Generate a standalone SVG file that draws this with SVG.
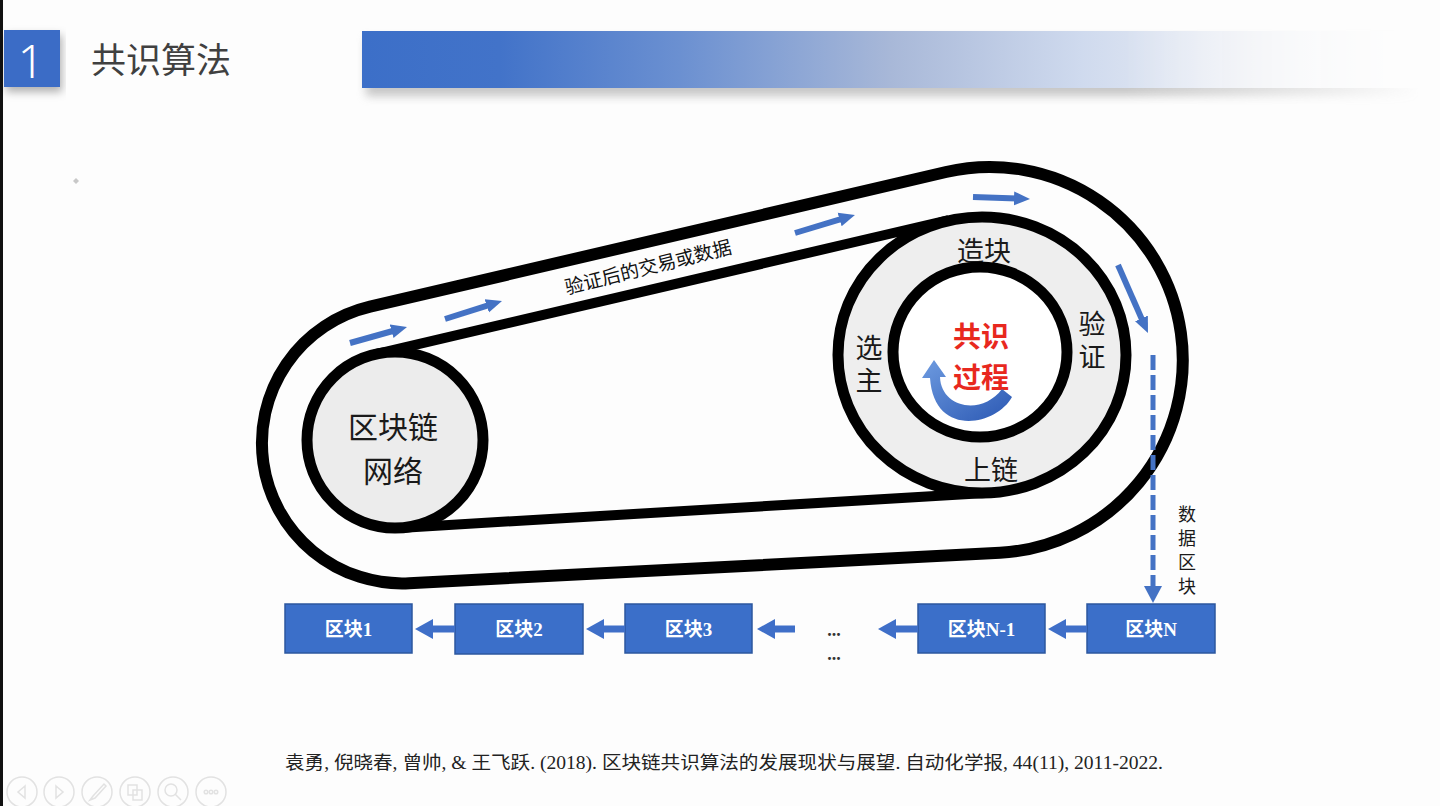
<svg xmlns="http://www.w3.org/2000/svg" width="1440" height="806" viewBox="0 0 1440 806">
<defs>
<style>
.cjk{font-family:"Noto Sans CJK SC","Noto Sans",sans-serif;}
.ring{font-family:"Noto Sans CJK SC",sans-serif;font-size:27px;fill:#1a1a1a;text-anchor:middle;}
.vert{font-family:"Noto Sans CJK SC",sans-serif;font-size:27px;fill:#1a1a1a;writing-mode:vertical-rl;letter-spacing:6px;}
.blk{fill:#3b6fc9;stroke:#2c579e;stroke-width:1.5;}
.blkt{font-family:"Liberation Serif","Noto Sans CJK SC",serif;font-weight:bold;font-size:19px;fill:#ffffff;text-anchor:middle;}
.belt{fill:none;stroke:#000;stroke-width:12;}
.bline{fill:none;stroke:#000;stroke-width:10;}
.barrow{stroke:#4472c4;stroke-width:6;fill:none;marker-end:url(#ah);}
.carrow{stroke:#3f6fc8;stroke-width:7;fill:none;marker-end:url(#ah2);}
.tb{fill:none;stroke:#e2e2e2;stroke-width:1.5;}
</style>
<marker id="ah" markerUnits="userSpaceOnUse" markerWidth="16" markerHeight="16" refX="3" refY="7" orient="auto" viewBox="0 0 16 14">
<path d="M0,0 L16,7 L0,14 Z" fill="#4472c4"/>
</marker>
<marker id="ah2" markerUnits="userSpaceOnUse" markerWidth="18" markerHeight="20" refX="3" refY="10" orient="auto" viewBox="0 0 18 20">
<path d="M0,0 L18,10 L0,20 Z" fill="#3f6fc8"/>
</marker>
<marker id="ah3" markerUnits="userSpaceOnUse" markerWidth="18" markerHeight="18" refX="3" refY="9" orient="auto" viewBox="0 0 17 18">
<path d="M0,0 L17,9 L0,18 Z" fill="#4472c4"/>
</marker>
<linearGradient id="hdr" x1="362" y1="0" x2="1420" y2="0" gradientUnits="userSpaceOnUse">
<stop offset="0" stop-color="#3c6fc8"/>
<stop offset="0.13" stop-color="#4273c9"/>
<stop offset="0.3" stop-color="#6b90d1"/>
<stop offset="0.5" stop-color="#a8b8d8"/>
<stop offset="0.68" stop-color="#cfdaee"/>
<stop offset="0.84" stop-color="#eef0f5"/>
<stop offset="1" stop-color="#ffffff"/>
</linearGradient>
<linearGradient id="fade" x1="362" y1="0" x2="1420" y2="0" gradientUnits="userSpaceOnUse">
<stop offset="0" stop-color="#fff"/>
<stop offset="0.72" stop-color="#fff"/>
<stop offset="1" stop-color="#000"/>
</linearGradient>
<mask id="hm" maskUnits="userSpaceOnUse" x="340" y="10" width="1100" height="110">
<rect x="340" y="10" width="1100" height="110" fill="url(#fade)"/>
</mask>
<linearGradient id="cg" x1="0" y1="0" x2="1" y2="1">
<stop offset="0" stop-color="#6e9be0"/>
<stop offset="1" stop-color="#2b58b3"/>
</linearGradient>
<filter id="sh" x="-10%" y="-30%" width="120%" height="180%">
<feDropShadow dx="2" dy="5" stdDeviation="4" flood-color="#000" flood-opacity="0.3"/>
</filter>
<filter id="bl" x="-5%" y="-50%" width="110%" height="200%">
<feGaussianBlur stdDeviation="5"/>
</filter>
</defs>
<rect x="0" y="0" width="1440" height="806" fill="#fdfdfd"/>
<rect x="0" y="0" width="3" height="806" fill="#111"/>

<g id="title">
<rect x="4" y="30" width="56" height="57" fill="#3b6cc6" filter="url(#sh)"/>
<text x="31" y="78" font-family="'Noto Sans','Open Sans',sans-serif" font-weight="300" font-size="46" fill="#ffffff" text-anchor="middle">1</text>
<text x="91" y="73" class="cjk" font-size="35" fill="#404040">共识算法</text>
<g mask="url(#hm)">
<rect x="366" y="38" width="1060" height="58" fill="#9a9a9a" opacity="0.55" filter="url(#bl)"/>
<rect x="362" y="31" width="1060" height="57" fill="url(#hdr)"/>
</g>
</g>

<polygon points="76,178 79,181 76,184 73,181" fill="#c8c8c8"/>

<g id="belt">
<path class="belt" d="M 370.05 306.7 L 946 172 A 193 193 0 1 1 1000 552.7 L 409.2 583.2 A 140.2 140.2 0 0 1 370.05 306.7 Z" fill="#ffffff"/>
<line class="bline" x1="374.7" y1="354.4" x2="948.7" y2="220"/>
<line class="bline" x1="399.8" y1="527.9" x2="989.8" y2="492.8"/>
</g>

<g id="network">
<circle cx="395" cy="440" r="88" fill="#ececec" stroke="#000" stroke-width="11"/>
<text x="393" y="438" class="cjk" font-size="30" fill="#1a1a1a" text-anchor="middle">区块链</text>
<text x="393" y="482" class="cjk" font-size="30" fill="#1a1a1a" text-anchor="middle">网络</text>
</g>

<g id="consensus-ring">
<ellipse cx="982" cy="355" rx="144" ry="138" fill="#eeeeee" stroke="#000" stroke-width="11"/>
<text x="984" y="261" class="ring">造块</text>
<text x="869" y="334" class="vert">选主</text>
<text x="1092" y="310" class="vert">验证</text>
<text x="991" y="480" class="ring">上链</text>
</g>

<g id="consensus-core">
<ellipse cx="980" cy="352" rx="87" ry="85" fill="#ffffff" stroke="#000" stroke-width="11"/>
<text x="981" y="347" class="cjk" font-size="28" font-weight="bold" fill="#e8281e" text-anchor="middle">共识</text>
<text x="981" y="388" class="cjk" font-size="28" font-weight="bold" fill="#e8281e" text-anchor="middle">过程</text>
<path d="M 1012 397 C 996 426, 934 438, 930 378 L 922 378 L 934 360 L 946 377 L 940 377 C 941 408, 982 416, 1002 389 Z" fill="url(#cg)"/>
</g>

<g id="belt-label">
<text x="648" y="274" class="cjk" font-size="19" fill="#111" text-anchor="middle" transform="rotate(-14 648 267)">验证后的交易或数据</text>
</g>

<g id="blocks">
<g id="block1"><rect class="blk" x="285" y="604" width="127" height="49"/><text class="blkt" x="348.5" y="636">区块1</text></g>
<g id="block2"><rect class="blk" x="455" y="604" width="128" height="50"/><text class="blkt" x="519" y="636">区块2</text></g>
<g id="block3"><rect class="blk" x="625" y="604" width="127" height="49"/><text class="blkt" x="688.5" y="636">区块3</text></g>
<g id="ellipsis"><text x="834" y="636" font-family="'Liberation Serif',serif" font-weight="bold" font-size="18" fill="#333" text-anchor="middle">...</text><text x="834" y="660" font-family="'Liberation Serif',serif" font-weight="bold" font-size="18" fill="#333" text-anchor="middle">...</text></g>
<g id="blockN-1"><rect class="blk" x="918" y="604" width="127" height="49"/><text class="blkt" x="981.5" y="636">区块N-1</text></g>
<g id="blockN"><rect class="blk" x="1087" y="604" width="128" height="49"/><text class="blkt" x="1151" y="636">区块N</text></g>
</g>

<g id="connectors">
<line class="barrow" x1="350" y1="343" x2="394.5" y2="330.5"/>
<line class="barrow" x1="445" y1="319" x2="489.6" y2="304.9"/>
<line class="barrow" x1="795" y1="233" x2="842.5" y2="218.7"/>
<line class="barrow" x1="973" y1="197" x2="1017" y2="198.5"/>
<line class="barrow" x1="1118" y1="265" x2="1142.7" y2="321.1"/>
<line x1="1153" y1="355" x2="1153" y2="589" stroke="#4472c4" stroke-width="5" stroke-dasharray="15 5" marker-end="url(#ah3)"/>
<line class="carrow" x1="455" y1="629" x2="430" y2="629"/>
<line class="carrow" x1="625" y1="629" x2="601" y2="629"/>
<line class="carrow" x1="795" y1="629" x2="772" y2="629"/>
<line class="carrow" x1="918" y1="629" x2="893" y2="629"/>
<line class="carrow" x1="1087" y1="629" x2="1063" y2="629"/>
</g>

<g id="data-block-label">
<text x="1187" y="505" font-family="'Noto Sans CJK SC',sans-serif" font-size="18" fill="#1a1a1a" writing-mode="vertical-rl" letter-spacing="6">数据区块</text>
</g>

<g id="citation">
<text x="285" y="769" font-family="'Liberation Serif','Noto Sans CJK SC',serif" font-size="18" fill="#222" textLength="878" lengthAdjust="spacingAndGlyphs">袁勇, 倪晓春, 曾帅, &amp; 王飞跃. (2018). 区块链共识算法的发展现状与展望. 自动化学报, 44(11), 2011-2022.</text>
</g>

<g id="toolbar">
<circle class="tb" cx="22" cy="792" r="15"/><path class="tb" d="M 25 786 L 18 792 L 25 798 Z"/>
<circle class="tb" cx="59" cy="792" r="15"/><path class="tb" d="M 56 786 L 63 792 L 56 798 Z"/>
<circle class="tb" cx="97" cy="792" r="15"/><path class="tb" d="M 90 800 L 93 796 L 104 784 L 106 786 L 95 798 Z"/>
<circle class="tb" cx="135" cy="792" r="15"/><rect class="tb" x="128" y="785" width="9" height="10"/><rect class="tb" x="133" y="790" width="9" height="10"/>
<circle class="tb" cx="173" cy="792" r="15"/><circle class="tb" cx="171" cy="790" r="6"/><line class="tb" x1="175" y1="794" x2="181" y2="800"/>
<circle class="tb" cx="211" cy="792" r="15"/><circle class="tb" cx="206" cy="792" r="1.8"/><circle class="tb" cx="211" cy="792" r="1.8"/><circle class="tb" cx="216" cy="792" r="1.8"/>
</g>
</svg>
